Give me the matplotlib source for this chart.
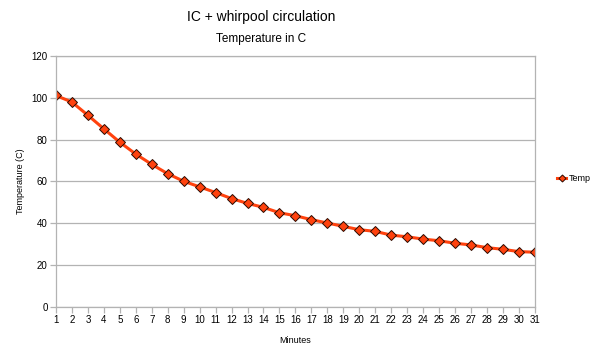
import numpy as np
import matplotlib
matplotlib.use('Agg')
from matplotlib import pyplot as plt

plt.rcParams['font.family'] = ['Liberation Sans', 'DejaVu Sans']

minutes = list(range(1, 32))
temp = [101.1, 97.9, 91.6, 85.1, 78.7, 73.0, 68.1, 63.6, 60.0, 57.3,
        54.6, 51.7, 49.4, 47.5, 44.9, 43.5, 41.6, 40.0, 38.4, 36.8,
        36.0, 34.2, 33.4, 32.3, 31.5, 30.3, 29.5, 28.2, 27.4, 26.3, 26.0]

grey = '#b3b3b3'

fig = plt.figure(figsize=(6.14, 3.6), dpi=100)
ax = fig.add_axes([0.0912, 0.1486, 0.7798, 0.6958])

ax.plot(minutes, temp, color='#ff420e', lw=2.2, marker='D', ms=5.5,
        mfc='#ff420e', mec='#2a0a00', mew=0.7, label='Temp')

ax.set_xlim(1, 31)
ax.set_ylim(0, 120)
ax.set_xticks(minutes)
ax.set_yticks(np.arange(0, 121, 20))
ax.yaxis.grid(True, color=grey, lw=0.9)
ax.set_axisbelow(True)
for s in ax.spines.values():
    s.set_color(grey)
    s.set_linewidth(0.9)
ax.tick_params(axis='both', colors=grey, length=4, width=0.9, labelsize=7,
               labelcolor='black', pad=2)

ax.set_xlabel('Minutes', fontsize=6.5, labelpad=8)
ax.set_ylabel('Temperature (C)', fontsize=6.5, labelpad=5)

fig.text(0.425, 0.953, 'IC + whirpool circulation', ha='center', va='center', fontsize=10)
fig.text(0.425, 0.893, 'Temperature in C', ha='center', va='center', fontsize=8.5)

ax.legend(loc='center left', bbox_to_anchor=(1.03, 0.51), frameon=False,
          fontsize=6.5, handlelength=1.0, handletextpad=0.3, markerscale=0.65)

fig.savefig('out.png', dpi=100)
